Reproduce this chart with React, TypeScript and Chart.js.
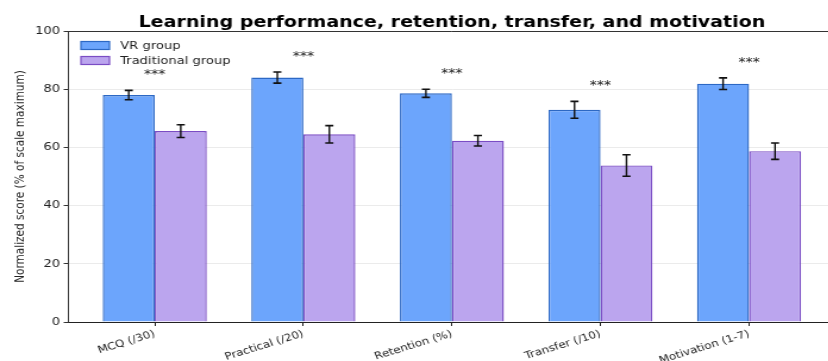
import React, { useEffect, useRef } from "react";
import { Chart, registerables } from "chart.js";

Chart.register(...registerables);

// Outcome measures shown along the x axis
const categories = ["MCQ (/30)", "Practical (/20)", "Retention (%)", "Transfer (/10)", "Motivation (1-7)"];

// Normalized means and standard errors (% of scale maximum)
const vrMeans = [78.0, 84.0, 78.6, 72.9, 81.9];
const vrErrors = [1.6, 1.9, 1.4, 2.9, 2.0];
const tradMeans = [65.6, 64.5, 62.3, 53.8, 58.7];
const tradErrors = [2.2, 3.0, 1.8, 3.7, 2.8];

// Significance markers per outcome
const significance = ["***", "***", "***", "***", "***"];

const yTicks = [0, 20, 40, 60, 80, 100];
const seriesNames = ["VR group", "Traditional group"];

const FONT = "'DejaVu Sans', sans-serif";
const INK = "#222222";

const VR_FILL = "#6ca5fc";
const VR_EDGE = "#2c68c4";
const TRAD_FILL = "#bba5ee";
const TRAD_EDGE = "#7a4cc4";

const TITLE = "Learning performance, retention, transfer, and motivation";

// The figure is drawn on a narrower canvas and widened horizontally.
const STRETCH_X = 1.19;
const CANVAS_W = 716;
const CANVAS_H = 361;

const errorBarPlugin = {
  id: "errorBars",
  afterDatasetsDraw(chart: any) {
    const { ctx } = chart;
    const yScale = chart.scales.y;
    const errs = [vrErrors, tradErrors];
    const means = [vrMeans, tradMeans];
    ctx.save();
    ctx.strokeStyle = "#111111";
    for (let d = 0; d < 2; d++) {
      const meta = chart.getDatasetMeta(d);
      meta.data.forEach((el: any, i: number) => {
        const x = el.x;
        const yHi = yScale.getPixelForValue(means[d][i] + errs[d][i]);
        const yLo = yScale.getPixelForValue(means[d][i] - errs[d][i]);
        ctx.beginPath();
        ctx.lineWidth = 1.4;
        ctx.moveTo(x, yHi);
        ctx.lineTo(x, yLo);
        ctx.stroke();
        ctx.beginPath();
        ctx.lineWidth = 1.6;
        ctx.moveTo(x - 3.4, yHi);
        ctx.lineTo(x + 3.4, yHi);
        ctx.moveTo(x - 3.4, yLo);
        ctx.lineTo(x + 3.4, yLo);
        ctx.stroke();
      });
    }
    ctx.restore();
  },
};

const annotationPlugin = {
  id: "annotations",
  afterDraw(chart: any) {
    const { ctx, chartArea } = chart;
    const xScale = chart.scales.x;
    const yScale = chart.scales.y;
    ctx.save();

    // top spine
    ctx.strokeStyle = "#333333";
    ctx.lineWidth = 1;
    ctx.beginPath();
    ctx.moveTo(chartArea.left, Math.round(chartArea.top) + 0.5);
    ctx.lineTo(chartArea.right, Math.round(chartArea.top) + 0.5);
    ctx.stroke();

    // significance stars above each pair
    ctx.fillStyle = INK;
    ctx.font = `12px ${FONT}`;
    ctx.textAlign = "center";
    ctx.textBaseline = "alphabetic";
    categories.forEach((_, i) => {
      const top = Math.max(vrMeans[i] + vrErrors[i], tradMeans[i] + tradErrors[i]);
      const x = xScale.getPixelForValue(i);
      const y = yScale.getPixelForValue(top + 4.2);
      ctx.fillText(significance[i], x, y);
    });

    // title
    ctx.font = `bold 16px ${FONT}`;
    ctx.fillStyle = "#000000";
    ctx.fillText(TITLE, (chartArea.left + chartArea.right) / 2, 27);

    // legend inside the plot
    const fills = [VR_FILL, TRAD_FILL];
    const edges = [VR_EDGE, TRAD_EDGE];
    ctx.textAlign = "left";
    ctx.textBaseline = "middle";
    ctx.font = `11px ${FONT}`;
    seriesNames.forEach((name, k) => {
      const cy = 45.5 + k * 15;
      ctx.fillStyle = fills[k];
      ctx.fillRect(68, cy - 4, 24, 8);
      ctx.strokeStyle = edges[k];
      ctx.lineWidth = 1.2;
      ctx.strokeRect(68, cy - 4, 24, 8);
      ctx.fillStyle = INK;
      ctx.fillText(name, 101, cy + 0.5);
    });

    ctx.restore();
  },
};

export default function App() {
  const canvasRef = useRef<HTMLCanvasElement>(null);

  useEffect(() => {
    const canvas = canvasRef.current;
    if (!canvas) return;
    const chart = new Chart(canvas, {
      type: "bar",
      data: {
        datasets: [
          {
            label: seriesNames[0],
            data: vrMeans.map((v, i) => ({ x: i, y: v })),
            backgroundColor: VR_FILL,
            borderColor: VR_EDGE,
            borderWidth: 1.4,
            categoryPercentage: 0.7,
            barPercentage: 1.0,
          },
          {
            label: seriesNames[1],
            data: tradMeans.map((v, i) => ({ x: i, y: v })),
            backgroundColor: TRAD_FILL,
            borderColor: TRAD_EDGE,
            borderWidth: 1.4,
            categoryPercentage: 0.7,
            barPercentage: 1.0,
          },
        ],
      },
      options: {
        animation: false,
        responsive: false,
        devicePixelRatio: 1,
        layout: { padding: { top: 31, right: 13.5, left: 0, bottom: 0 } },
        plugins: {
          legend: { display: false },
          title: { display: false },
          tooltip: { enabled: false },
        },
        scales: {
          x: {
            type: "linear",
            min: -0.585,
            max: 4.585,
            offset: false,
            afterBuildTicks: (axis: any) => {
              axis.ticks = categories.map((_, i) => ({ value: i }));
            },
            afterFit: (axis: any) => {
              axis.height = 39;
            },
            grid: {
              display: true,
              drawOnChartArea: false,
              drawTicks: true,
              tickLength: 4,
              tickColor: "#222222",
              offset: false,
            },
            border: { display: true, color: "#222222", width: 1 },
            ticks: {
              autoSkip: false,
              minRotation: 20,
              maxRotation: 20,
              padding: 2,
              color: INK,
              font: { family: FONT, size: 10 },
              callback: (v: any) => categories[Math.round(Number(v))],
            },
          },
          y: {
            min: 0,
            max: 100,
            afterBuildTicks: (axis: any) => {
              axis.ticks = yTicks.map((v) => ({ value: v }));
            },
            afterFit: (axis: any) => {
              axis.width = 57;
            },
            grid: {
              color: "#ebebeb",
              lineWidth: 1,
              drawTicks: true,
              tickLength: 3.5,
              tickColor: "#333333",
            },
            border: { display: true, color: "#333333", width: 1 },
            ticks: {
              padding: 3,
              color: INK,
              font: { family: FONT, size: 11 },
            },
            title: {
              display: true,
              text: "Normalized score (% of scale maximum)",
              color: INK,
              font: { family: FONT, size: 10.5 },
              padding: { top: 11, bottom: 0 },
            },
          },
        },
      },
      plugins: [errorBarPlugin, annotationPlugin],
    } as any);
    return () => chart.destroy();
  }, []);

  return (
    <div
      style={{
        position: "absolute",
        left: 0,
        top: 0,
        width: 828,
        height: 361,
        overflow: "hidden",
        background: "#ffffff",
      }}
    >
      <canvas
        ref={canvasRef}
        width={CANVAS_W}
        height={CANVAS_H}
        style={{
          display: "block",
          width: `${CANVAS_W}px`,
          height: `${CANVAS_H}px`,
          transform: `scaleX(${STRETCH_X})`,
          transformOrigin: "0 0",
        }}
      />
    </div>
  );
}
